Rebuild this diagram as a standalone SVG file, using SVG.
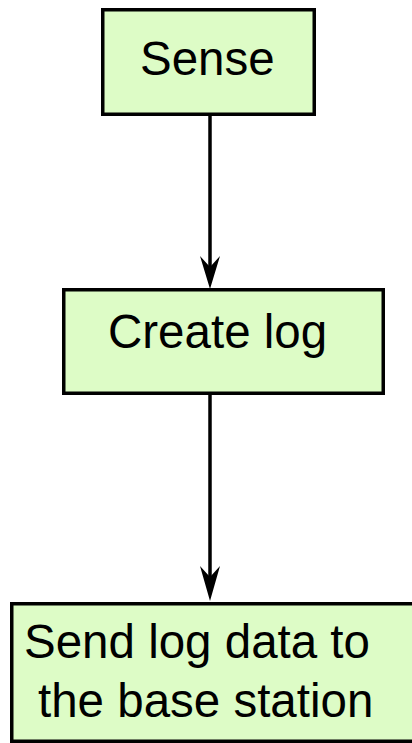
<svg xmlns="http://www.w3.org/2000/svg" width="412" height="743" viewBox="0 0 412 743">
  <style>
    .box { fill: #ddfcc6; stroke: #000; stroke-width: 3.5; }
    .label { font-family: "Liberation Sans", Arial, sans-serif; font-size: 47.5px; fill: #000; }
    .edge { stroke: #000; stroke-width: 3.5; fill: none; }
    .head { fill: #000; }
  </style>
  <g id="sense">
    <rect class="box" x="102.75" y="9.75" width="211.5" height="104.5"/>
    <text class="label" x="140" y="75">Sense</text>
  </g>
  <g id="create-log">
    <rect class="box" x="63.75" y="289.75" width="319.5" height="103.5"/>
    <text class="label" x="108" y="348">Create log</text>
  </g>
  <g id="send-log">
    <rect class="box" x="11.75" y="603.75" width="410" height="137.5"/>
    <text class="label" x="24" y="658">Send log data to</text>
    <text class="label" x="38" y="717">the base station</text>
  </g>
  <g id="connectors">
    <line class="edge" x1="210" y1="116" x2="210" y2="268"/>
    <path class="head" d="M210,289 L200,256 L210,267 L220,256 Z"/>
    <line class="edge" x1="210" y1="395" x2="210" y2="578"/>
    <path class="head" d="M210,601 L200,566 L210,577 L220,566 Z"/>
  </g>
</svg>
